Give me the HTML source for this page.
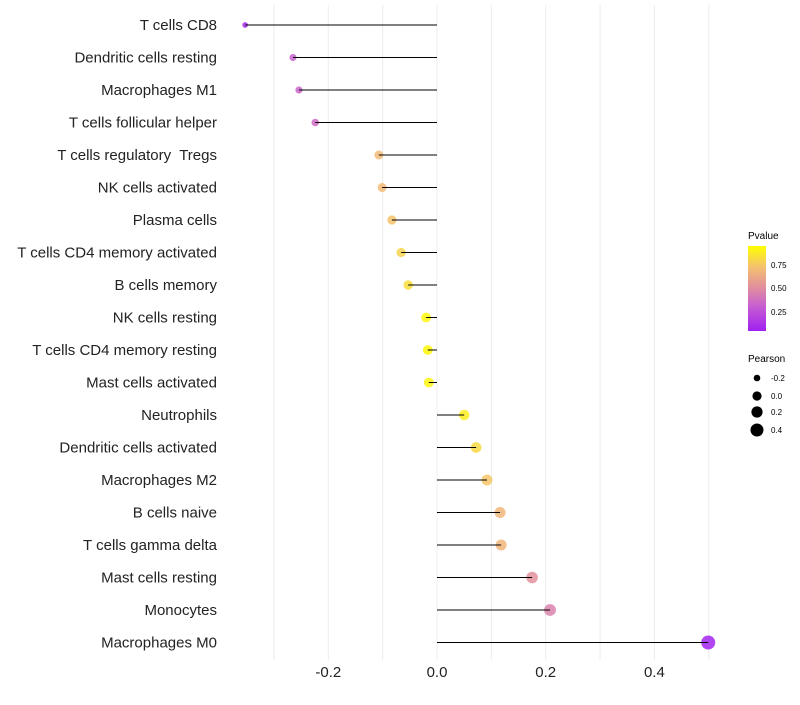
<!DOCTYPE html>
<html><head><meta charset="utf-8"><style>
body{margin:0;background:#fff;font-family:"Liberation Sans",sans-serif}
text{white-space:pre}
</style></head><body>
<svg id="chart" width="800" height="700" xmlns="http://www.w3.org/2000/svg" font-family="Liberation Sans, sans-serif">
<defs><linearGradient id="pg" x1="0" y1="1" x2="0" y2="0">
<stop offset="0" stop-color="#a020f0"/><stop offset="0.3" stop-color="#c860d0"/><stop offset="0.5" stop-color="#e08ca0"/><stop offset="0.75" stop-color="#f4c070"/><stop offset="1" stop-color="#ffff00"/></linearGradient></defs>
<g id="grid"></g><g id="dots"></g><g id="stems"></g><g id="ylabels"></g><g id="xlabels"></g>
<g>
<text x="748" y="239" font-size="10">Pvalue</text>
<rect x="748" y="246" width="18" height="85" fill="url(#pg)"/>
<text x="771" y="268" font-size="8">0.75</text><text x="771" y="291" font-size="8">0.50</text><text x="771" y="315" font-size="8">0.25</text>
<text x="748" y="362" font-size="10">Pearson</text>
<circle cx="757" cy="378" r="3.3"/><text x="771" y="381" font-size="8">-0.2</text>
<circle cx="757" cy="396" r="4.6"/><text x="771" y="399" font-size="8">0.0</text>
<circle cx="757" cy="412" r="5.6"/><text x="771" y="415" font-size="8">0.2</text>
<circle cx="757" cy="430" r="6.5"/><text x="771" y="433" font-size="8">0.4</text>
</g>
</svg>
<script>
const categories=["T cells CD8","Dendritic cells resting","Macrophages M1","T cells follicular helper","T cells regulatory  Tregs","NK cells activated","Plasma cells","T cells CD4 memory activated","B cells memory","NK cells resting","T cells CD4 memory resting","Mast cells activated","Neutrophils","Dendritic cells activated","Macrophages M2","B cells naive","T cells gamma delta","Mast cells resting","Monocytes","Macrophages M0"];
const pearson=[-0.353,-0.265,-0.254,-0.224,-0.107,-0.101,-0.083,-0.066,-0.053,-0.020,-0.017,-0.015,0.050,0.072,0.092,0.116,0.118,0.175,0.208,0.499];
const pvalue=[0.05,0.3,0.32,0.35,0.72,0.72,0.76,0.82,0.87,0.97,0.97,0.96,0.93,0.85,0.77,0.7,0.7,0.52,0.45,0.02];
const xTicks=[-0.2,0,0.2,0.4];
const xMinor=[-0.3,-0.1,0.1,0.3,0.5];
const NS="http://www.w3.org/2000/svg";
const xs=v=>437+v*543.5;
const ys=i=>25+i*32.5;
const rs=v=>Math.sqrt(Math.max(2,25+48*v));
function lerp(a,b,t){return a.map((x,i)=>Math.round(x+(b[i]-x)*t));}
const stops=[[0,[160,32,240]],[0.3,[200,96,208]],[0.5,[224,140,160]],[0.75,[244,192,112]],[1,[255,255,0]]];
function col(p){for(let i=1;i<stops.length;i++){if(p<=stops[i][0]){const t=(p-stops[i-1][0])/(stops[i][0]-stops[i-1][0]);const c=lerp(stops[i-1][1],stops[i][1],t);return `rgb(${c})`;}}return "rgb(255,255,0)";}
function mk(tag,attrs,parent){const e=document.createElementNS(NS,tag);for(const k in attrs)e.setAttribute(k,attrs[k]);parent.appendChild(e);return e;}
const grid=document.getElementById('grid'),dots=document.getElementById('dots'),stems=document.getElementById('stems'),yl=document.getElementById('ylabels'),xl=document.getElementById('xlabels');
xMinor.concat(xTicks).forEach(v=>{const l=mk('line',{x1:xs(v),x2:xs(v),y1:5,y2:660,stroke:'#ececec','stroke-width':1},grid);

});
xTicks.forEach(v=>{const t=mk('text',{x:xs(v),y:677,'text-anchor':'middle','font-size':15,fill:'#222'},xl);t.textContent=v===0?'0.0':v.toFixed(1);

});
categories.forEach((c,i)=>{const y=ys(i);
const t=mk('text',{x:217,y:y+5,'text-anchor':'end','font-size':15,fill:'#222'},yl);t.textContent=c;


const d=mk('circle',{cx:xs(pearson[i]),cy:y,r:rs(pearson[i]),fill:col(pvalue[i]),'fill-opacity':0.85},dots);


const l=mk('line',{x1:xs(0),x2:xs(pearson[i]),y1:y,y2:y,stroke:'#000','stroke-width':1},stems);

});
</script>
</body></html>
